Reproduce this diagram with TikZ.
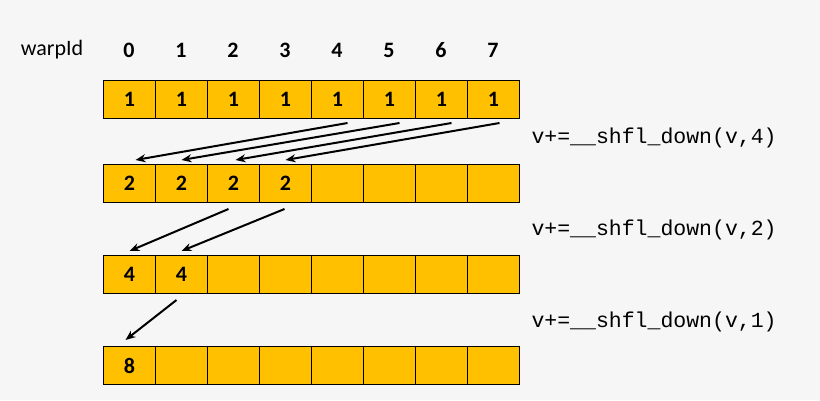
\documentclass[tikz,border=0pt]{standalone}
\usepackage{fontspec}
\setmainfont{Carlito}
\newfontfamily\monof{Liberation Mono}
\usetikzlibrary{arrows.meta}
\definecolor{cellc}{HTML}{FFC000}
\definecolor{bgc}{HTML}{F6F6F6}
\tikzset{
 cell/.style={draw=black,line width=1pt,fill=cellc,minimum width=52pt,minimum height=38pt,inner sep=0pt,font=\fontsize{22}{22}\selectfont\bfseries,anchor=north west},
 hdr/.style={font=\fontsize{22}{22}\selectfont\bfseries},
 lbl/.style={font=\monof\fontsize{21.5}{22}\selectfont,anchor=west},
 arr/.style={-{Stealth[length=10pt,width=8pt]},line width=2pt}
}
\begin{document}
\begin{tikzpicture}[x=1pt,y=-1pt]
\fill[bgc] (0,0) rectangle (820,400);
\useasboundingbox (0,0) rectangle (820,400);
\node[font=\fontsize{22}{22}\selectfont] (w) at (52,50) {warpId};
\foreach \i in {0,...,7}{
 \node[hdr] (h\i) at (129+52*\i,50) {\i};
 \node[cell] (a\i) at (103+52*\i,80) {1};
}
\foreach \i/\t in {0/2,1/2,2/2,3/2,4/,5/,6/,7/}{
 \node[cell] (b\i) at (103+52*\i,164) {\t};
}
\foreach \i/\t in {0/4,1/4,2/,3/,4/,5/,6/,7/}{
 \node[cell] (c\i) at (103+52*\i,255) {\t};
}
\foreach \i/\t in {0/8,1/,2/,3/,4/,5/,6/,7/}{
 \node[cell] (d\i) at (103+52*\i,346) {\t};
}
\draw[arr] ([xshift=10pt,yshift=-4pt]a4.south) -- ([xshift=6pt,yshift=4pt]b0.north);
\draw[arr] ([xshift=10pt,yshift=-4pt]a5.south) -- ([xshift=0pt,yshift=4pt]b1.north);
\draw[arr] ([xshift=10pt,yshift=-4pt]a6.south) -- ([xshift=2pt,yshift=4pt]b2.north);
\draw[arr] ([xshift=6pt,yshift=-4pt]a7.south) -- ([xshift=0pt,yshift=4pt]b3.north);
\draw[arr] ([xshift=-5pt,yshift=-6pt]b2.south) -- ([xshift=0pt,yshift=4pt]c0.north);
\draw[arr] ([xshift=-1pt,yshift=-6pt]b3.south) -- ([xshift=0pt,yshift=4pt]c1.north);
\draw[arr] ([xshift=-5pt,yshift=-6pt]c1.south) -- ([xshift=-4pt,yshift=6pt]d0.north);
\node[lbl] (l1) at (528,138) {v+=\_\_shfl\_down(v,4)};
\node[lbl] (l2) at (528,230) {v+=\_\_shfl\_down(v,2)};
\node[lbl] (l3) at (528,322) {v+=\_\_shfl\_down(v,1)};
\end{tikzpicture}
\end{document}
